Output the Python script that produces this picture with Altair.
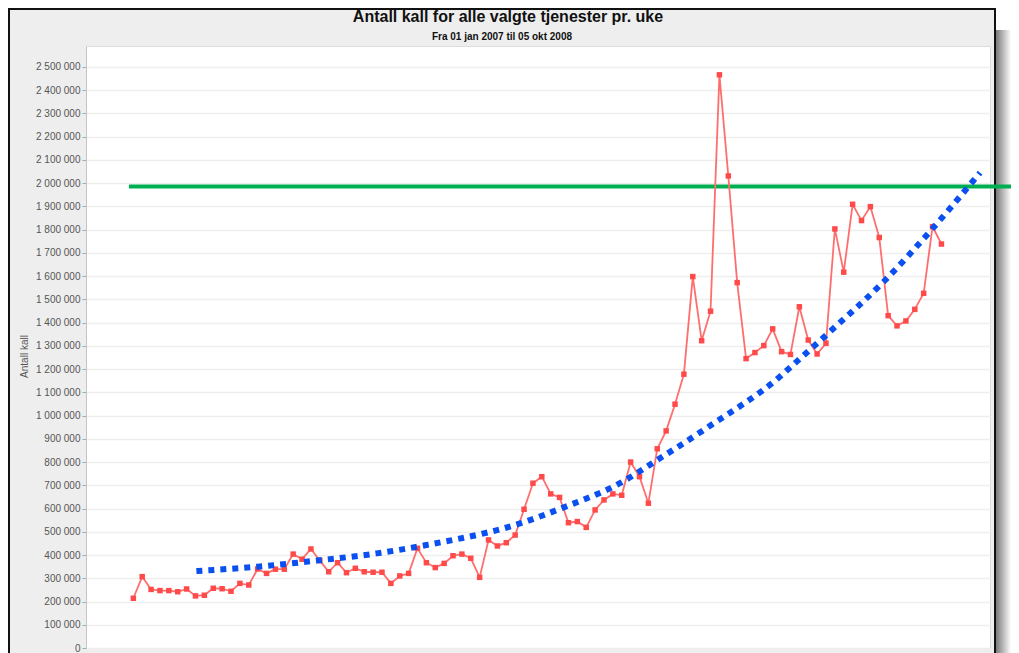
import altair as alt
import pandas as pd

# ---- data ----
weeks = list(range(1, 93))
calls = [
    214000, 307000, 252000, 247000, 247000, 242000, 254000, 224000, 227000, 257000,
    255000, 244000, 278000, 271000, 340000, 321000, 339000, 339000, 404000, 382000,
    426000, 376000, 328000, 367000, 324000, 343000, 328000, 326000, 326000, 278000,
    310000, 321000, 429000, 367000, 346000, 364000, 397000, 404000, 386000, 304000,
    465000, 439000, 453000, 486000, 597000, 709000, 737000, 663000, 648000, 539000,
    544000, 519000, 594000, 637000, 663000, 657000, 800000, 737000, 623000, 857000,
    934000, 1049000, 1178000, 1598000, 1322000, 1449000, 2466000, 2031000, 1572000, 1245000,
    1271000, 1301000, 1373000, 1275000, 1263000, 1468000, 1325000, 1265000, 1311000, 1803000,
    1617000, 1909000, 1839000, 1899000, 1766000, 1430000, 1386000, 1407000, 1457000, 1526000,
    1813000, 1738000,
]
trend_weeks = [8.1, 15.0, 21.65, 28.4, 34.0, 44.55, 49.4, 55.8, 60.3, 65.9, 73.8, 75.7, 79.65, 85.6, 91.1, 96.35]
trend_values = [331000, 350000, 376000, 407000, 443000, 536000, 604000, 709000, 816000, 955000,
                1167000, 1232000, 1368000, 1580000, 1809000, 2045000]
target_value = 1985000
y_ticks = list(range(0, 2500001, 100000))

title_text = "Antall kall for alle valgte tjenester pr. uke"
subtitle_text = "Fra 01 jan 2007 til 05 okt 2008"
y_title = "Antall kall"

W, H = 904, 602

df = pd.DataFrame({"uke": weeks, "kall": calls})
tdf = pd.DataFrame({"uke": trend_weeks, "kall": trend_values})
gdf = pd.DataFrame({"kall": [target_value]})
one = pd.DataFrame({"d": [0]})
tt = pd.DataFrame({"t": [title_text]})
st = pd.DataFrame({"t": [subtitle_text]})

xs = alt.Scale(domain=[-4.33, 97.47], nice=False, zero=False)
ys = alt.Scale(domain=[0, 2590000], nice=False)

yaxis = alt.Axis(
    values=y_ticks,
    labelExpr="replace(format(datum.value, ','), /,/g, ' ')",
    title=y_title,
    titleX=-57,
    titleY=310,
    titleAngle=270,
    titleAlign="center",
    titleBaseline="bottom",
    titleFont="Liberation Sans",
    titleFontSize=10,
    titleFontWeight="normal",
    titleColor="#555555",
    labelFont="Liberation Sans",
    labelFontSize=10,
    labelColor="#555555",
    labelPadding=2,
    tickSize=4,
    tickColor="#aaaaaa",
    domainColor="#c4c4c4",
    gridColor="#eeeeee",
    gridWidth=1.5,
)

X = alt.X("uke:Q", scale=xs, axis=None)
Y = alt.Y("kall:Q", scale=ys, axis=yaxis)

white_right = alt.Chart(one).mark_rect(fill="white").encode(
    x=alt.value(W + 5), x2=alt.value(W + 22), y=alt.value(-38), y2=alt.value(H + 6)
)
shadow = alt.Chart(one).mark_rect(
    fill=alt.LinearGradient(
        gradient="linear",
        stops=[alt.GradientStop(offset=0, color="#7a7a7a"),
               alt.GradientStop(offset=1, color="#ffffff")],
        x1=0, x2=1, y1=0, y2=0,
    )
).encode(x=alt.value(W + 6), x2=alt.value(W + 21), y=alt.value(-16), y2=alt.value(H + 6))
border = alt.Chart(one).mark_rect(fillOpacity=0, stroke="#111111", strokeWidth=2).encode(
    x=alt.value(-77), x2=alt.value(W + 5), y=alt.value(-37), y2=alt.value(H + 12)
)

title_mark = alt.Chart(tt).mark_text(
    font="Liberation Sans", fontSize=16, fontWeight="bold", color="#111111",
    align="center", baseline="middle"
).encode(text="t:N", x=alt.value(422), y=alt.value(-29))
subtitle_mark = alt.Chart(st).mark_text(
    font="Liberation Sans", fontSize=10, fontWeight="bold", color="#111111",
    align="center", baseline="middle"
).encode(text="t:N", x=alt.value(416), y=alt.value(-9))

green = alt.Chart(gdf).mark_rule(color="#00b050", strokeWidth=4).encode(
    y=Y, x=alt.value(43), x2=alt.value(W + 22)
)
red_line = alt.Chart(df).mark_line(color="#ff6e6e", strokeWidth=1.8).encode(x=X, y=Y)
red_pts = alt.Chart(df).mark_square(color="#ff4a4a", size=30, opacity=1).encode(x=X, y=Y)
trend = alt.Chart(tdf).mark_line(
    color="#0a50f0", strokeWidth=6, strokeDash=[6, 6], strokeCap="butt", interpolate="monotone"
).encode(x=X, y=Y)

chart = alt.layer(
    white_right, shadow, border, title_mark, subtitle_mark, green, red_line, red_pts, trend
).properties(
    width=W,
    height=H,
    padding={"left": 78, "top": 38, "right": 21, "bottom": 5},
    autosize=alt.AutoSizeParams(type="none"),
    background="#eeeeee",
).configure_view(fill="white", stroke="#dcdcdc")

chart.save("out.html", embed_options={"renderer": "svg", "actions": False})
